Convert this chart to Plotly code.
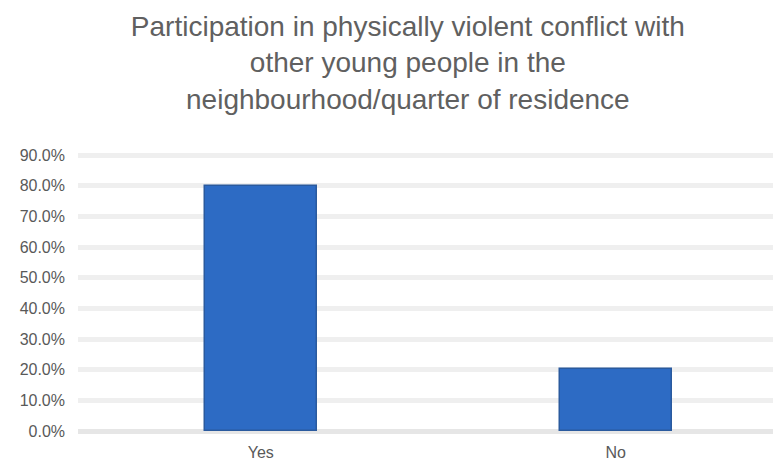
import plotly.graph_objects as go

categories = ["Yes", "No"]
values = [0.798, 0.202]
tick_vals = [0, 0.1, 0.2, 0.3, 0.4, 0.5, 0.6, 0.7, 0.8, 0.9]
tick_text = ["0.0%", "10.0%", "20.0%", "30.0%", "40.0%", "50.0%", "60.0%", "70.0%", "80.0%", "90.0%"]
title_text = ("Participation in physically violent conflict with<br>"
              "other young people in the<br>"
              "neighbourhood/quarter of residence")

fig = go.Figure()
fig.add_trace(go.Bar(
    x=[0, 1], y=values,
    width=0.315,
    marker=dict(color="#2D6BC4", line=dict(color="#2A5A9E", width=1.5)),
))

fig.update_layout(
    width=781, height=462,
    paper_bgcolor="white", plot_bgcolor="white",
    margin=dict(l=70, r=0, t=144, b=39),
    showlegend=False,
    title=dict(text=title_text, x=0.512, xanchor="center", xref="container",
               y=0.94, yanchor="middle", yref="container",
               font=dict(family="Liberation Sans, Arial", size=28, color="#606060")),
    font=dict(family="Liberation Sans, Arial", color="#595959"),
    bargap=0,
)
fig.update_xaxes(
    tickmode="array", tickvals=[0, 1], ticktext=categories,
    range=[-0.515, 1.488], showgrid=False, zeroline=False, showline=False,
    tickfont=dict(size=16, color="#595959"), ticks="", ticklabelstandoff=10,
)
fig.update_yaxes(
    range=[0, 0.91], tickmode="array", tickvals=tick_vals, ticktext=tick_text,
    showgrid=True, gridcolor="#EFEFEF", gridwidth=5,
    zeroline=True, zerolinecolor="#E6E6E6", zerolinewidth=5,
    tickfont=dict(size=16, color="#595959"), ticks="", ticklabelstandoff=12,
)
fig.write_html("out.html")
